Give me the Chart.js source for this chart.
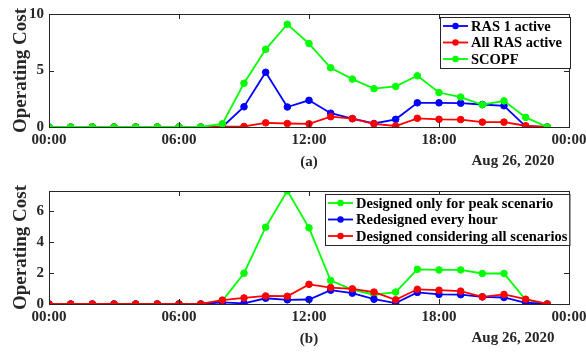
<!DOCTYPE html>
<html>
<head>
<meta charset="utf-8">
<script src="https://cdn.jsdelivr.net/npm/chart.js@4.4.0/dist/chart.umd.min.js"></script>
<style>
html, body { margin: 0; padding: 0; background: #fff; }
canvas { display: block; }
</style>
</head>
<body>
<canvas id="chartA" width="586" height="177"></canvas>
<canvas id="chartB" width="586" height="177"></canvas>
<script>
// hours of the day (one point per hour)
var hours = [0,1,2,3,4,5,6,7,8,9,10,11,12,13,14,15,16,17,18,19,20,21,22,23];
var xTicks = [0, 6, 12, 18, 24];
var xTickLabels = ['00:00', '06:00', '12:00', '18:00', '00:00'];
var dateLabel = 'Aug 26, 2020';

// panel (a)
var ras1Active   = [0,0,0,0,0,0,0,0,0,1.79,4.84,1.77,2.36,1.22,0.74,0.31,0.68,2.14,2.14,2.11,1.99,1.88,0.06,0];
var allRasActive = [0,0,0,0,0,0,0,0,0.03,0.05,0.37,0.31,0.28,0.91,0.74,0.28,0.09,0.77,0.68,0.66,0.43,0.43,0.11,0];
var scopf        = [0,0,0,0,0,0,0,0,0.28,3.87,6.87,9.09,7.38,5.24,4.24,3.39,3.59,4.53,3.05,2.65,1.97,2.31,0.85,0];
var yTicksA = [0, 5, 10];

// panel (b)
var peakOnly     = [0,0,0,0,0,0,0,0,0.2,1.99,4.96,7.31,4.92,1.52,0.93,0.6,0.77,2.24,2.2,2.2,1.97,1.97,0.27,0];
var everyHour    = [0,0,0,0,0,0,0,0,0.1,0.04,0.37,0.27,0.29,0.89,0.7,0.31,0.06,0.75,0.62,0.6,0.46,0.42,0.08,0];
var allScenarios = [0,0,0,0,0,0,0,0,0.25,0.39,0.52,0.5,1.27,1.06,0.98,0.77,0.27,0.95,0.89,0.83,0.46,0.62,0.31,0];
var yTicksB = [0, 2, 4, 6];

var FONT = 'Liberation Serif, Times New Roman, serif';
var AXIS = '#262626';

function toPoints(values) {
    return hours.map(function(h, i) { return { x: h, y: values[i] }; });
}

function line(label, values, color, order) {
    return {
        label: label,
        data: toPoints(values),
        borderColor: color,
        backgroundColor: color,
        pointBackgroundColor: color,
        pointBorderColor: color,
        borderWidth: 1.8,
        pointRadius: 3.3,
        pointBorderWidth: 1,
        order: order,
        tension: 0
    };
}

// box, inward ticks, legend and captions, matlab style
var matlabStyle = {
    id: 'matlabStyle',
    afterDraw: function(chart, args, opts) {
        var ctx = chart.ctx;
        var a = chart.chartArea;
        var xs = chart.scales.x, ys = chart.scales.y;
        ctx.save();
        ctx.strokeStyle = AXIS;
        ctx.lineWidth = 1;
        ctx.strokeRect(Math.round(a.left) + 0.5, Math.round(a.top) + 0.5,
                       Math.round(a.right - a.left), Math.round(a.bottom - a.top));
        ctx.beginPath();
        xs.ticks.forEach(function(t) {
            var px = Math.round(xs.getPixelForValue(t.value)) + 0.5;
            ctx.moveTo(px, a.bottom); ctx.lineTo(px, a.bottom - 5);
            ctx.moveTo(px, a.top); ctx.lineTo(px, a.top + 5);
        });
        ys.ticks.forEach(function(t) {
            var py = Math.round(ys.getPixelForValue(t.value)) + 0.5;
            ctx.moveTo(a.left, py); ctx.lineTo(a.left + 5, py);
            ctx.moveTo(a.right, py); ctx.lineTo(a.right - 5, py);
        });
        ctx.stroke();

        // legend
        var lg = opts.legend;
        ctx.font = 'bold 14.5px ' + FONT;
        var maxW = 0;
        lg.items.forEach(function(i) {
            maxW = Math.max(maxW, ctx.measureText(chart.data.datasets[i].label).width);
        });
        var rowH = 16.5;
        var boxW = 31 + maxW + lg.pad;
        var boxH = 18 + rowH * (lg.items.length - 1);
        ctx.fillStyle = '#fff';
        ctx.fillRect(lg.left, lg.top, boxW, boxH);
        ctx.strokeStyle = AXIS;
        ctx.strokeRect(lg.left + 0.5, lg.top + 0.5, boxW, boxH);
        lg.items.forEach(function(i, k) {
            var ds = chart.data.datasets[i];
            var y = lg.top + 9 + k * rowH;
            ctx.strokeStyle = ds.borderColor;
            ctx.lineWidth = 1.8;
            ctx.beginPath();
            ctx.moveTo(lg.left + 3, y); ctx.lineTo(lg.left + 28, y);
            ctx.stroke();
            ctx.fillStyle = ds.borderColor;
            ctx.beginPath();
            ctx.arc(lg.left + 15.5, y, 3.2, 0, Math.PI * 2);
            ctx.fill();
            ctx.fillStyle = '#000';
            ctx.textAlign = 'left';
            ctx.textBaseline = 'middle';
            ctx.fillText(ds.label, lg.left + 31, y + 1);
        });

        // captions
        ctx.fillStyle = AXIS;
        ctx.font = 'bold 15px ' + FONT;
        ctx.textAlign = 'center';
        ctx.textBaseline = 'middle';
        ctx.fillText(opts.panel, (a.left + a.right) / 2, 162);
        ctx.fillText(dateLabel, 513, 161);
        ctx.restore();
    }
};

function makeOptions(yTicks, yMax, legend, panel, top) {
    return {
        responsive: false,
        animation: false,
        layout: { padding: { top: top, left: 0, right: 17, bottom: 0 } },
        plugins: {
            legend: { display: false },
            tooltip: { enabled: false },
            matlabStyle: { legend: legend, panel: panel }
        },
        scales: {
            x: {
                type: 'linear',
                min: 0,
                max: 24,
                grid: { display: false, drawTicks: false },
                border: { display: false },
                afterBuildTicks: function(scale) {
                    scale.ticks = xTicks.map(function(v) { return { value: v }; });
                },
                ticks: {
                    padding: 4,
                    color: AXIS,
                    font: { family: FONT, size: 15, weight: 'bold' },
                    maxRotation: 0,
                    autoSkip: false,
                    callback: function(v) { return xTickLabels[xTicks.indexOf(v)]; }
                },
                afterFit: function(scale) {
                    scale.height = 177 - 127;
                    scale.paddingLeft = 0;
                    scale.paddingRight = 0;
                }
            },
            y: {
                min: 0,
                max: yMax,
                grid: { display: false, drawTicks: false },
                border: { display: false },
                afterBuildTicks: function(scale) {
                    scale.ticks = yTicks.map(function(v) { return { value: v }; });
                },
                ticks: {
                    padding: 5,
                    color: AXIS,
                    font: { family: FONT, size: 15, weight: 'bold' }
                },
                title: {
                    display: true,
                    text: 'Operating Cost',
                    color: AXIS,
                    font: { family: FONT, size: 19, weight: 'bold' },
                    padding: { top: 10, bottom: 0 }
                },
                afterFit: function(scale) {
                    scale.width = 49;
                }
            }
        }
    };
}

new Chart(document.getElementById('chartA').getContext('2d'), {
    type: 'line',
    data: {
        datasets: [
            line('RAS 1 active', ras1Active, '#0000ff', 2),
            line('All RAS active', allRasActive, '#ff0000', 1),
            line('SCOPF', scopf, '#00ff00', 0)
        ]
    },
    options: makeOptions(yTicksA, 10, { items: [0, 1, 2], left: 440, top: 17, pad: 8 }, '(a)', 10),
    plugins: [matlabStyle]
});

new Chart(document.getElementById('chartB').getContext('2d'), {
    type: 'line',
    data: {
        datasets: [
            line('Designed only for peak scenario', peakOnly, '#00ff00', 2),
            line('Redesigned every hour', everyHour, '#0000ff', 1),
            line('Designed considering all scenarios', allScenarios, '#ff0000', 0)
        ]
    },
    options: makeOptions(yTicksB, 7.3, { items: [0, 1, 2], left: 325, top: 17, pad: 2 }, '(b)', 11),
    plugins: [matlabStyle]
});
</script>
</body>
</html>
